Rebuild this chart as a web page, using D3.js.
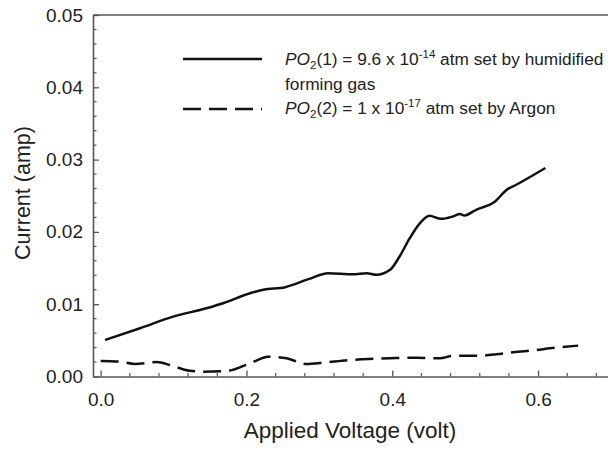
<!DOCTYPE html>
<html>
<head>
<meta charset="utf-8">
<script src="https://cdn.jsdelivr.net/npm/d3@7"></script>
<style>
  html, body { margin: 0; padding: 0; background: #fff; }
  svg { display: block; font-family: Arial, "Liberation Sans", sans-serif; }
</style>
</head>
<body>
<svg id="chart" width="608" height="454"></svg>
<script>
// Current vs applied voltage under two oxygen partial pressures
const voltageForming = [0.006, 0.054, 0.0995, 0.145, 0.168, 0.205, 0.223, 0.253, 0.285, 0.312, 0.346, 0.365, 0.378, 0.397, 0.410, 0.424, 0.438, 0.451, 0.467, 0.483, 0.493, 0.499, 0.515, 0.541, 0.557, 0.570, 0.610];
const currentForming = [0.00505, 0.00668, 0.00828, 0.00944, 0.01014, 0.01152, 0.0120, 0.01235, 0.01346, 0.01429, 0.01415, 0.01429, 0.01406, 0.01475, 0.0166, 0.01914, 0.02122, 0.02223, 0.02181, 0.02213, 0.02246, 0.02227, 0.02306, 0.02421, 0.02583, 0.02652, 0.02884];

const voltageArgon = [0.0, 0.0265, 0.047, 0.077, 0.095, 0.122, 0.141, 0.173, 0.205, 0.230, 0.255, 0.282, 0.305, 0.342, 0.360, 0.397, 0.433, 0.465, 0.483, 0.520, 0.543, 0.566, 0.598, 0.616, 0.655];
const currentArgon = [0.00215, 0.00205, 0.00173, 0.00201, 0.00159, 0.0008, 0.00067, 0.00076, 0.00183, 0.00274, 0.00252, 0.00173, 0.00191, 0.00229, 0.00238, 0.00252, 0.0026, 0.00252, 0.00284, 0.00288, 0.00307, 0.00335, 0.00367, 0.0039, 0.00427];

const xTicks = [0.0, 0.2, 0.4, 0.6];
const yTicks = [0.00, 0.01, 0.02, 0.03, 0.04, 0.05];

const svg = d3.select("#chart");
const plotLeft = 93, plotRight = 611, plotTop = 15, plotBottom = 376.5;
const axisColor = "#555";
const textColor = "#222";

const x = d3.scaleLinear().domain([-0.0105, 0.7]).range([plotLeft, plotRight]);
const y = d3.scaleLinear().domain([0, 0.05]).range([plotBottom, plotTop]);

// minor ticks (inward)
const xMinor = d3.range(0, 0.70001, 0.04).filter(v => !xTicks.some(t => Math.abs(t - v) < 1e-9));
const yMinor = d3.range(0, 0.05001, 0.002).filter(v => !yTicks.some(t => Math.abs(t - v) < 1e-9));

const g = svg.append("g");

// x axis with major ticks inside the frame
const xAxis = g.append("g").attr("transform", `translate(0,${plotBottom})`)
  .call(d3.axisBottom(x).tickValues(xTicks).tickFormat(d3.format(".1f")).tickSizeInner(-6).tickSizeOuter(0).tickPadding(12));
xAxis.select(".domain").attr("stroke", axisColor).attr("stroke-width", 1.6);
xAxis.selectAll(".tick line").attr("stroke", axisColor).attr("stroke-width", 1.3);
xAxis.selectAll(".tick text").attr("fill", textColor).attr("font-size", 19).attr("dy", "0.9em");
xAxis.selectAll(".minor").data(xMinor).enter().append("line")
  .attr("x1", d => x(d)).attr("x2", d => x(d)).attr("y1", 0).attr("y2", -3.5)
  .attr("stroke", axisColor).attr("stroke-width", 1.2);

const yAxis = g.append("g").attr("transform", `translate(${plotLeft},0)`)
  .call(d3.axisLeft(y).tickValues(yTicks).tickFormat(d3.format(".2f")).tickSizeInner(-6).tickSizeOuter(0).tickPadding(10));
yAxis.select(".domain").attr("stroke", axisColor).attr("stroke-width", 1.6);
yAxis.selectAll(".tick line").attr("stroke", axisColor).attr("stroke-width", 1.3);
yAxis.selectAll(".tick text").attr("fill", textColor).attr("font-size", 19);
yAxis.selectAll(".minor").data(yMinor).enter().append("line")
  .attr("x1", 0).attr("x2", 3.5).attr("y1", d => y(d)).attr("y2", d => y(d))
  .attr("stroke", axisColor).attr("stroke-width", 1.2);

// top frame line
g.append("line").attr("x1", plotLeft).attr("x2", plotRight).attr("y1", plotTop).attr("y2", plotTop)
  .attr("stroke", axisColor).attr("stroke-width", 1.6);

// axis titles
svg.append("text").attr("x", 350).attr("y", 438).attr("text-anchor", "middle")
  .attr("font-size", 22.5).attr("fill", textColor).text("Applied Voltage (volt)");
svg.append("text").attr("transform", "translate(30,193) rotate(-90)").attr("text-anchor", "middle")
  .attr("font-size", 21.5).attr("fill", textColor).text("Current (amp)");

// curves
const line = d3.line().curve(d3.curveMonotoneX);
const formingPts = voltageForming.map((v, i) => [x(v), y(currentForming[i])]);
const argonPts = voltageArgon.map((v, i) => [x(v), y(currentArgon[i])]);

g.append("path").attr("d", line(formingPts)).attr("fill", "none")
  .attr("stroke", "#111").attr("stroke-width", 2.5).attr("stroke-linejoin", "round");
g.append("path").attr("d", line(argonPts)).attr("fill", "none")
  .attr("stroke", "#111").attr("stroke-width", 2.5).attr("stroke-dasharray", "18,8");

// legend
const leg = svg.append("g");
leg.append("line").attr("x1", 183).attr("x2", 262).attr("y1", 59).attr("y2", 59)
  .attr("stroke", "#111").attr("stroke-width", 2.5);
leg.append("line").attr("x1", 183).attr("x2", 262).attr("y1", 109).attr("y2", 109)
  .attr("stroke", "#111").attr("stroke-width", 2.5).attr("stroke-dasharray", "18,8");

function legendEntry(yPos, idx, mant, exp, tail) {
  const t = leg.append("text").attr("x", 285).attr("y", yPos).attr("font-size", 17.3).attr("fill", textColor);
  t.append("tspan").attr("font-style", "italic").text("PO");
  t.append("tspan").attr("font-size", 11.5).attr("dy", 4).text("2");
  t.append("tspan").attr("dy", -4).text(`(${idx}) = ${mant} x 10`);
  t.append("tspan").attr("font-size", 11.5).attr("dy", -7).text(exp);
  t.append("tspan").attr("dy", 7).text(tail);
}
legendEntry(65, 1, "9.6", "-14", " atm set by humidified");
leg.append("text").attr("x", 285).attr("y", 89.5).attr("font-size", 17.3).attr("fill", textColor).text("forming gas");
legendEntry(114, 2, "1", "-17", " atm set by Argon");
</script>
</body>
</html>
